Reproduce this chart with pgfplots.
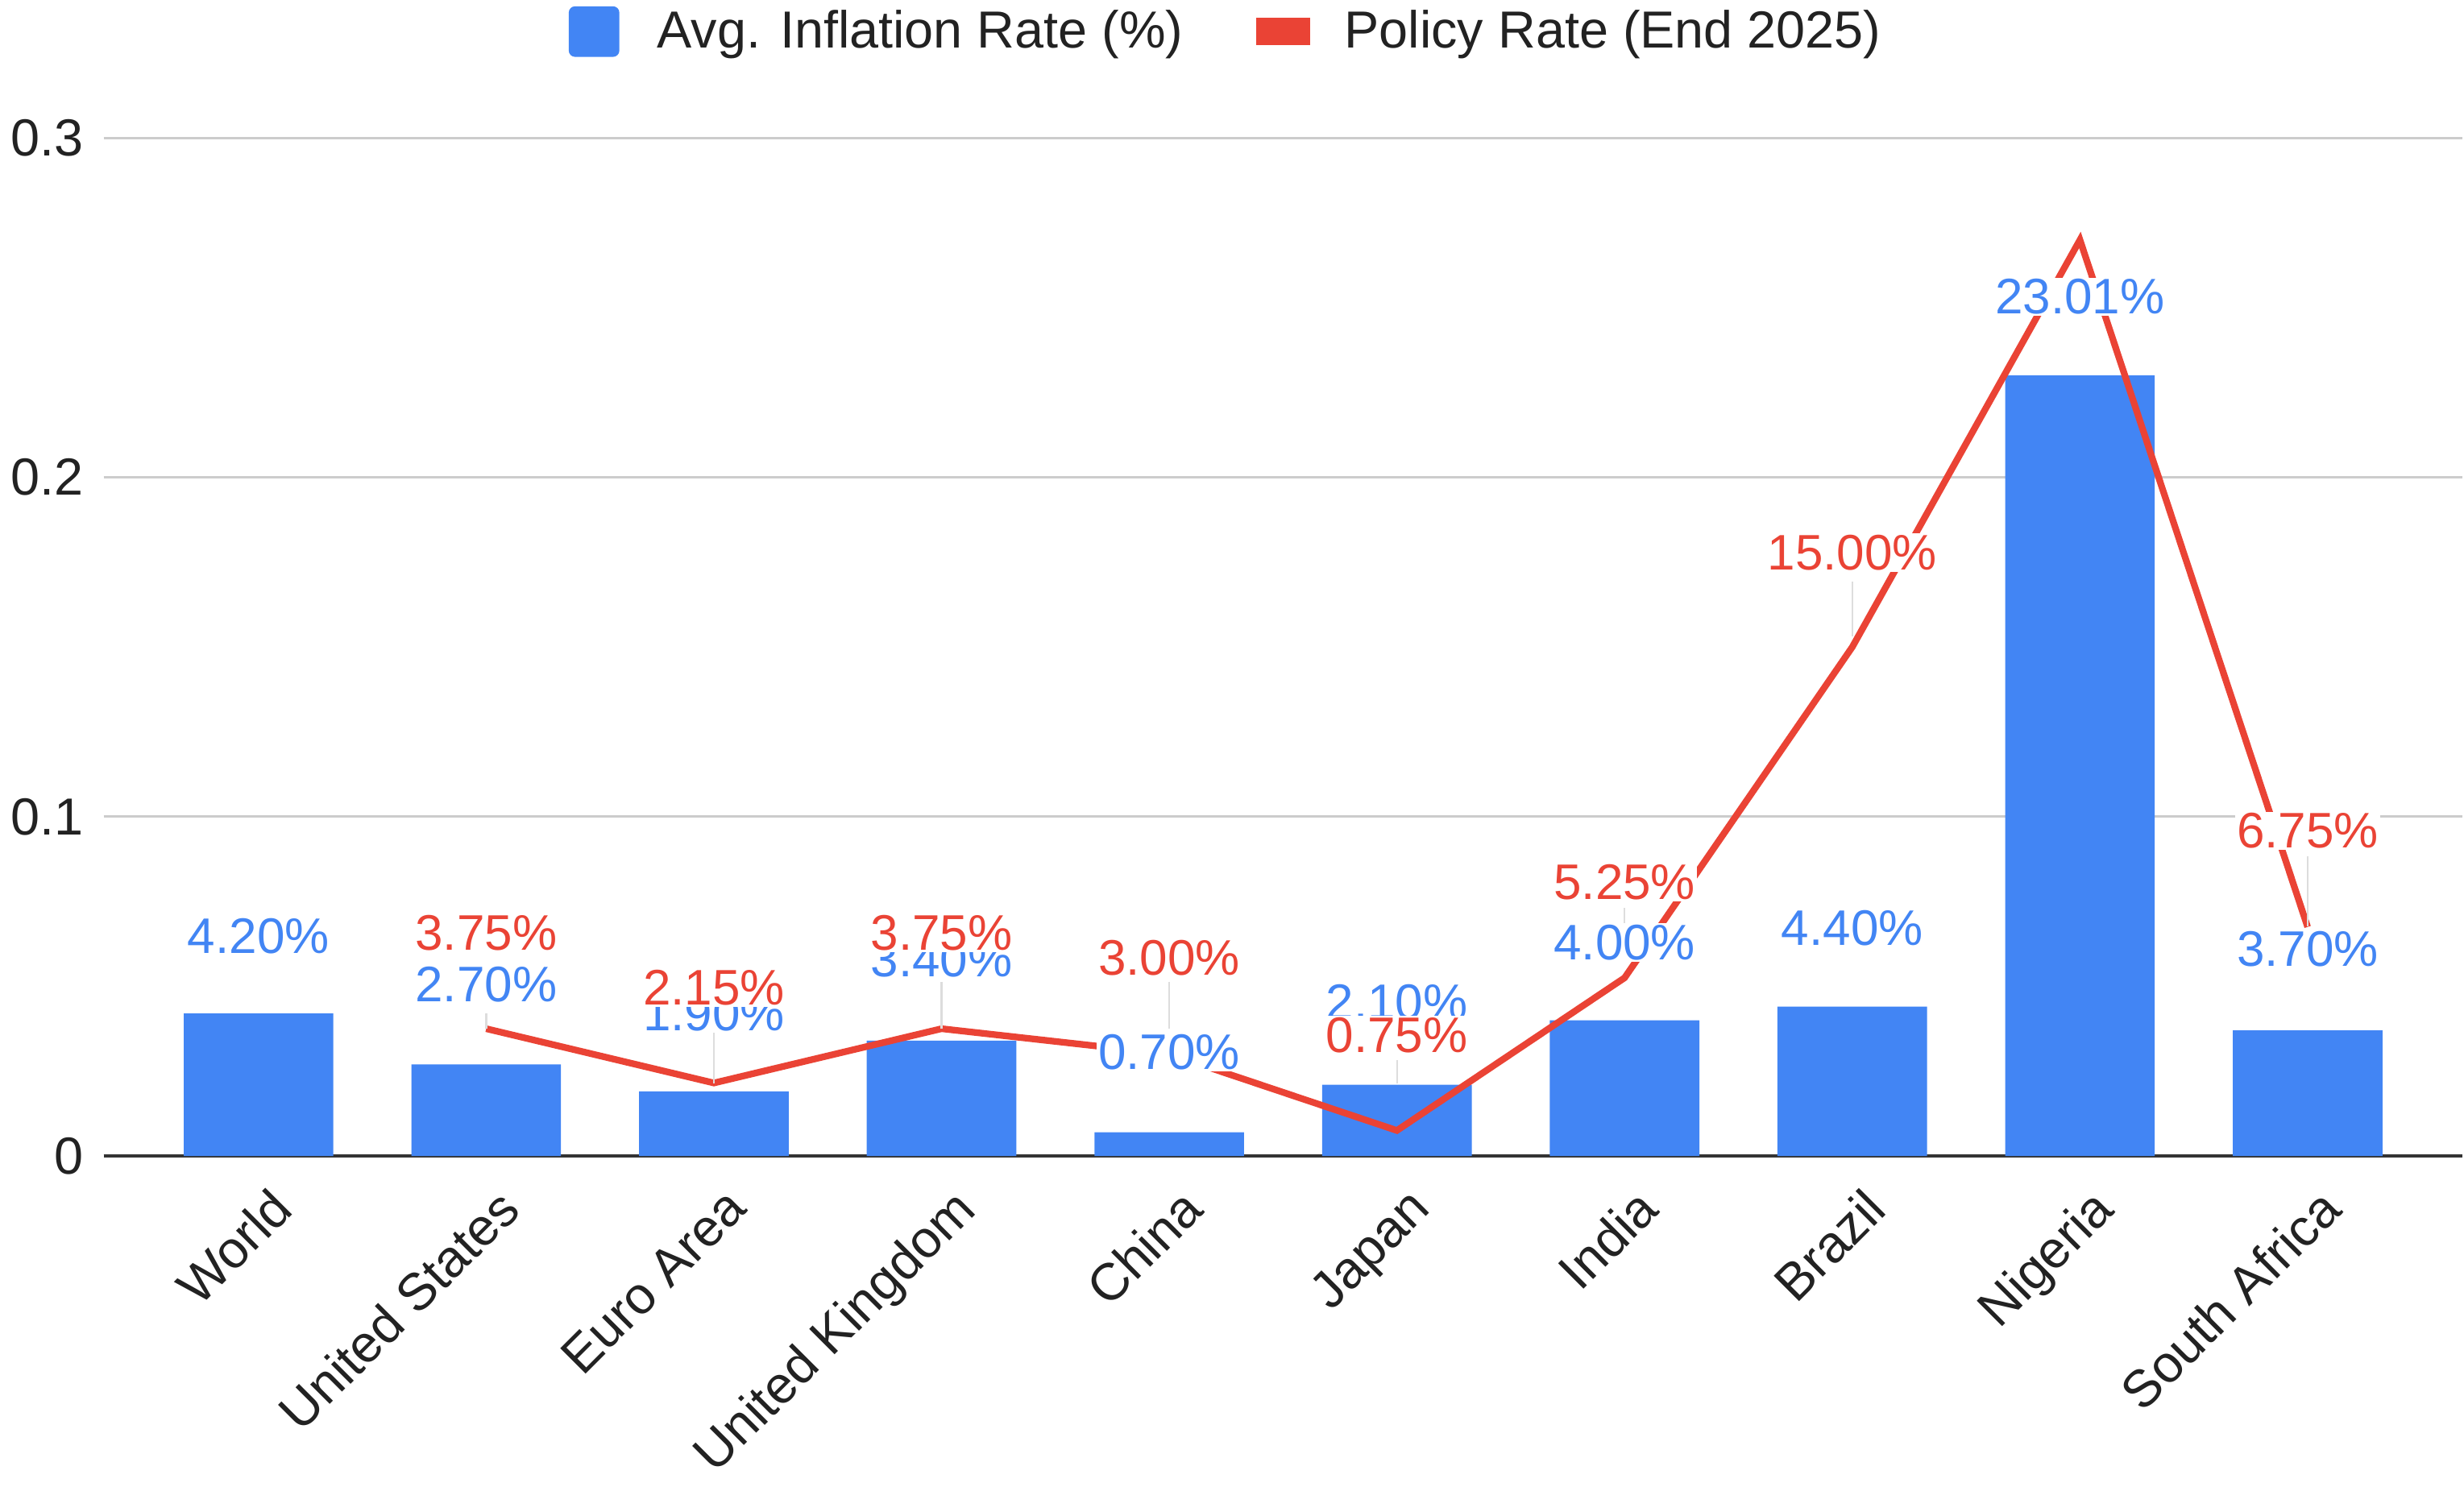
\documentclass[border=0pt]{standalone}
\usepackage{pgfplots}
\pgfplotsset{compat=1.18}
\usepackage{fontspec}
\setmainfont{Liberation Sans}
\definecolor{gblue}{HTML}{4285F4}
\definecolor{gred}{HTML}{EA4335}
\definecolor{ggrid}{HTML}{CCCCCC}
\definecolor{gtext}{HTML}{222222}
\definecolor{glead}{HTML}{DDDDDD}

\begin{document}
\begin{tikzpicture}[font=\fontsize{16.5}{19}\selectfont]
\begin{axis}[
  scale only axis, width=746pt, height=322pt,
  xmin=-0.68, xmax=9.68, ymin=0, ymax=0.3,
  axis x line*=bottom, axis y line*=left,
  x axis line style={-, draw=black!80, line width=1pt},
  y axis line style={draw=none},
  /pgf/number format/assume math mode=true,
  ytick={0,0.1,0.2,0.3}, yticklabels={0,0.1,0.2,0.3},
  ymajorgrids, grid style={draw=ggrid, line width=0.8pt},
  major tick length=0pt,
  xtick={0,...,9},
  xticklabels={World,United States,Euro Area,United Kingdom,China,Japan,India,Brazil,Nigeria,South Africa},
  xticklabel style={xshift=3pt, yshift=-7.7pt, rotate=45, anchor=north east, text=gtext, inner sep=1pt},
  yticklabel style={text=gtext, xshift=-3pt},
  legend columns=2,
  legend style={at={(0.476,1)}, anchor=south, yshift=23.5pt, draw=none, fill=none,
    /tikz/every even column/.append style={column sep=22pt}, text=gtext,
    nodes={inner sep=1pt}},
  legend cell align=left,
  clip=false,
  unbounded coords=jump,
]
\addplot[ybar, bar width=0.657, fill=gblue, draw=none, bar shift=0pt,
  legend image code/.code={\fill[gblue, rounded corners=2pt] (0pt,-8pt) rectangle (16pt,8pt); \path[draw=none,fill=none] (0pt,0pt) -- (27pt,0pt);}]
  coordinates {(0,0.042)(1,0.027)(2,0.019)(3,0.034)(4,0.007)(5,0.021)(6,0.040)(7,0.044)(8,0.2301)(9,0.037)};
\addlegendentry{Avg. Inflation Rate (\%)}
\addplot[gred, line width=2.1pt, mark=none,
  legend image code/.code={\fill[gred] (0pt,-3.3pt) rectangle (15pt,3.3pt); \path[draw=none,fill=none] (0pt,0pt) -- (26pt,0pt);}]
  coordinates {(1,0.0375)(2,0.0215)(3,0.0375)(4,0.030)(5,0.0075)(6,0.0525)(7,0.150)(8,0.270)(9,0.0675)};
\addlegendentry{Policy Rate (End 2025)}
% leader lines
\addplot[glead, line width=0.6pt, mark=none, forget plot]
  coordinates {(1,0.0421)(1,0.0375) (1,nan)
               (2,0.0375)(2,0.0213) (2,nan)
               (3,0.0514)(3,0.0375) (3,nan)
               (4,0.0514)(4,0.0375) (4,nan)
               (5,0.0282)(5,0.0213) (5,nan)
               (6,0.0731)(6,0.0676) (6,nan)
               (7,0.1694)(7,0.1532) (7,nan)
               (9,0.0884)(9,0.0676)};
% blue labels
\addplot[draw=none, forget plot, point meta=explicit,
  nodes near coords={\pgfmathprintnumber[fixed,fixed zerofill,precision=2,assume math mode=true]{\pgfplotspointmeta}\%},
  nodes near coords style={anchor=center, text=gblue, fill=white, inner sep=0.5pt, font=\fontsize{15.8}{18}\selectfont}]
  table[x=x, y=y, meta=v] {
x y v
0 0.0648 4.20
1 0.0505 2.70
2 0.0421 1.90
3 0.0579 3.40
4 0.0306 0.70
5 0.0454 2.10
6 0.0630 4.00
7 0.0671 4.40
8 0.2532 23.01
9 0.0611 3.70
};
% red labels
\addplot[draw=none, forget plot, point meta=explicit,
  nodes near coords={\pgfmathprintnumber[fixed,fixed zerofill,precision=2,assume math mode=true]{\pgfplotspointmeta}\%},
  nodes near coords style={anchor=center, text=gred, fill=white, inner sep=0.5pt, font=\fontsize{15.8}{18}\selectfont}]
  table[x=x, y=y, meta=v] {
x y v
1 0.0657 3.75
2 0.0495 2.15
3 0.0657 3.75
4 0.0583 3.00
5 0.0356 0.75
6 0.0806 5.25
7 0.1778 15.00
9 0.0958 6.75
};
\end{axis}
\end{tikzpicture}
\end{document}
